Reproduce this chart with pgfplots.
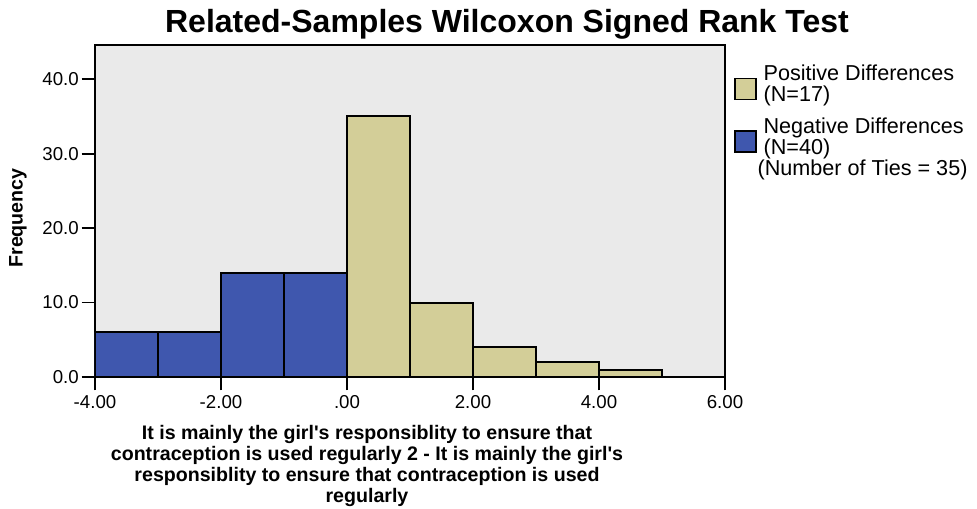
\documentclass[border=0pt]{standalone}
\usepackage{pgfplots}
\pgfplotsset{compat=1.18}
\usetikzlibrary{calc}
\usepackage{fontspec}
\setmainfont{Liberation Sans}[Ligatures=TeXOff]
\definecolor{negblue}{RGB}{63,87,174}
\definecolor{postan}{RGB}{211,206,152}
\definecolor{bggray}{RGB}{234,234,234}
\newcommand\lstr{\rule[-4.25pt]{0pt}{15.75pt}}
\newcommand\lstrb{\rule[-11.75pt]{0pt}{23.25pt}}
\begin{document}
\begin{tikzpicture}[x=0.75pt,y=0.75pt]
\begin{axis}[
  scale only axis,
  width=472.5pt, height=249pt,
  xmin=-4, xmax=6, ymin=0, ymax=44.6,
  axis background/.style={fill=bggray},
  axis line style={line width=1.3pt, black},
  xtick={-4,-2,0,2,4,6}, xticklabels={-4.00,-2.00,.00,2.00,4.00,6.00},
  ytick={0,10,20,30,40}, yticklabels={0.0,10.0,20.0,30.0,40.0},
  tick align=outside, tick pos=left, major tick length=10pt,
  tick style={line width=1.3pt, black},
  ticklabel style={font=\fontsize{14}{16}\selectfont},
  yticklabel style={inner xsep=2pt},
  legend style={at={(axis description cs:1.01587,0.9407)}, anchor=north west,
    draw=none, fill=none, inner sep=0pt, row sep=0pt, column sep=5.5pt,
    nodes={inner sep=0pt, text depth=, text height=},
    cells={anchor=base west},
    font=\fontsize{16.2}{18}\selectfont},
]
\coordinate (ll) at (rel axis cs:0,0);
\addplot[ybar interval, fill=postan, draw=black, line width=1.5pt,
  legend image code/.code={\path[draw=none,fill=none] (0pt,0pt) -- (15.75pt,0pt);
    \draw[overlay, fill=postan, draw=black, line width=1.3pt] (0pt,1.5pt) rectangle (15.75pt,-14.25pt);}]
  coordinates {(0,35) (1,10) (2,4) (3,2) (4,1) (5,1)};
\addlegendentry{\lstr Positive Differences}
\addlegendimage{empty legend}
\addlegendentry{\lstrb (N=17)}
\addplot[ybar interval, fill=negblue, draw=black, line width=1.5pt,
  legend image code/.code={\path[draw=none,fill=none] (0pt,0pt) -- (15.75pt,0pt);
    \draw[overlay, fill=negblue, draw=black, line width=1.3pt] (0pt,1.5pt) rectangle (15.75pt,-14.25pt);}]
  coordinates {(-4,6) (-3,6) (-2,14) (-1,14) (0,14)};
\addlegendentry{\lstr Negative Differences}
\addlegendimage{empty legend}
\addlegendentry{\lstr (N=40)}
\addlegendimage{empty legend}
\addlegendentry{\lstr\hspace*{-4.5pt}(Number of Ties = 35)}
\end{axis}
\begin{scope}[shift={($(ll)+(-95,377)$)}, y=-0.75pt]
\pgfresetboundingbox
\useasboundingbox (0,0) rectangle (977,509);
\node[font=\bfseries\fontsize{24}{28}\selectfont, anchor=base, inner sep=0pt] at (507,33) {Related-Samples Wilcoxon Signed Rank Test};
\node[rotate=90, font=\bfseries\fontsize{14.7}{16}\selectfont, inner sep=0pt] at (18,218) {Frequency};
\node[align=center, font=\bfseries\fontsize{14.7}{15.75}\selectfont, anchor=north, inner sep=0pt] at (367,425) {It is mainly the girl's responsiblity to ensure that\\contraception is used regularly 2 - It is mainly the girl's\\responsiblity to ensure that contraception is used\\regularly};
\end{scope}
\end{tikzpicture}
\end{document}
